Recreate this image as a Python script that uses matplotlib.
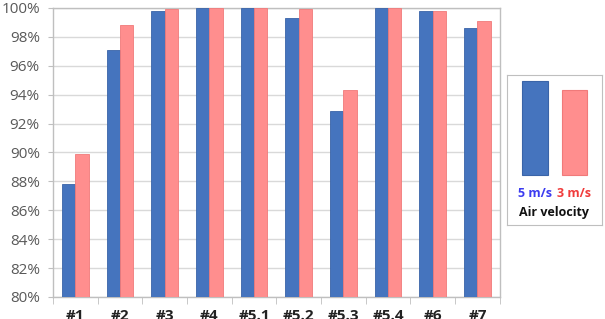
import numpy as np
import matplotlib
matplotlib.use("Agg")
import matplotlib.pyplot as plt
from matplotlib.patches import Rectangle
from matplotlib.ticker import FuncFormatter

# Data
samples = ["#1", "#2", "#3", "#4", "#5.1", "#5.2", "#5.3", "#5.4", "#6", "#7"]
v5 = [87.8, 97.1, 99.8, 100.0, 100.0, 99.3, 92.9, 100.0, 99.8, 98.6]
v3 = [89.9, 98.8, 99.95, 100.0, 100.0, 99.95, 94.3, 100.0, 99.8, 99.1]

blue = "#4574BE"
pink = "#FF8E8E"
grid_col = "#D9D9D9"

plt.rcParams["font.family"] = ["Open Sans", "DejaVu Sans"]

fig = plt.figure(figsize=(6.05, 3.19), dpi=100)
ax = fig.add_axes([0.0876, 0.069, 0.7385, 0.906])

x = np.arange(len(samples))
w = 0.30
ax.bar(x - w / 2, v5, w, color=blue, edgecolor="#3A64A8", linewidth=0.6, zorder=3)
ax.bar(x + w / 2, v3, w, color=pink, edgecolor="#F07A7A", linewidth=0.6, zorder=3)

ax.set_ylim(80, 100)
ax.set_xlim(-0.5, len(samples) - 0.5)
ax.set_yticks(np.arange(80, 101, 2))
ax.yaxis.set_major_formatter(FuncFormatter(lambda v, p: f"{v:.0f}%"))
ax.grid(axis="y", color=grid_col, linewidth=1.0, zorder=0)

ax.set_xticks(x)
ax.set_xticklabels(samples, fontweight="bold", color="#222222", fontsize=11)
ax.set_xticks(np.arange(-0.5, len(samples), 1), minor=True)
ax.tick_params(axis="x", which="major", length=0, pad=9)
ax.tick_params(axis="x", which="minor", length=5, color="#BFBFBF")
ax.tick_params(axis="y", length=3.5, color="#BFBFBF", labelsize=11,
               labelcolor="#595959", pad=6)

for side in ["left", "bottom", "right", "top"]:
    ax.spines[side].set_color("#BFBFBF")
    ax.spines[side].set_linewidth(1.0)

# custom legend box
lax = fig.add_axes([0.838, 0.295, 0.157, 0.47])
lax.set_xlim(0, 1)
lax.set_ylim(0, 1)
lax.set_xticks([])
lax.set_yticks([])
for side in lax.spines.values():
    side.set_color("#BFBFBF")
lax.add_patch(Rectangle((0.16, 0.33), 0.27, 0.63, facecolor=blue, edgecolor="#3A64A8", lw=0.8))
lax.add_patch(Rectangle((0.58, 0.33), 0.26, 0.57, facecolor=pink, edgecolor="#F07A7A", lw=0.8))
lax.text(0.29, 0.21, "5 m/s", color="#3B3BF0", fontsize=9, fontweight="bold", ha="center", va="center")
lax.text(0.71, 0.21, "3 m/s", color="#F03B3B", fontsize=9, fontweight="bold", ha="center", va="center")
lax.text(0.5, 0.08, "Air velocity", color="#111111", fontsize=9, fontweight="bold", ha="center", va="center")

fig.savefig("out.png", dpi=100)
